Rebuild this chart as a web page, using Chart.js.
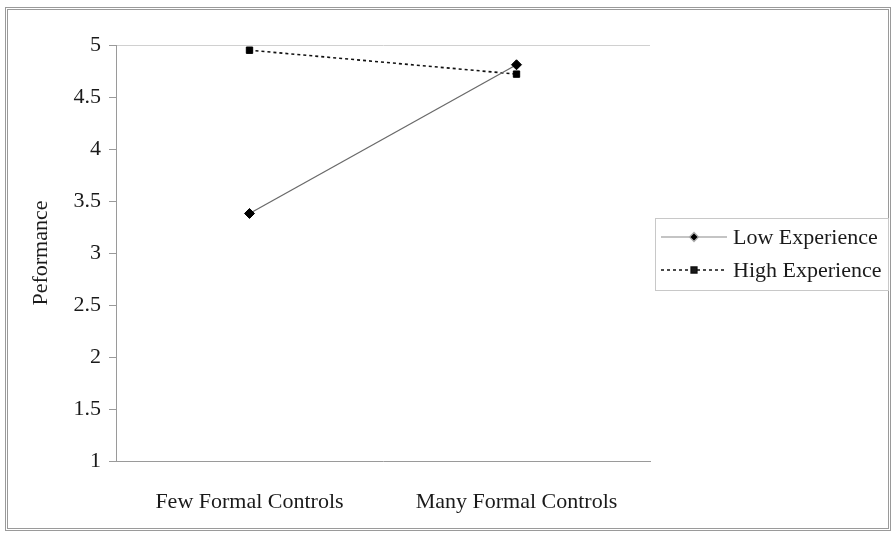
<!DOCTYPE html>
<html>
<head>
<meta charset="utf-8">
<script src="https://cdn.jsdelivr.net/npm/chart.js@4/dist/chart.umd.min.js"></script>
<style>
  html, body { margin: 0; padding: 0; background: #fff; }
  #wrap { position: relative; width: 896px; height: 533px; }
  #frame { position: absolute; left: 5px; top: 7px; width: 880px; height: 518px; border: 3px double #9a9a9a; }
  canvas { position: absolute; left: 0; top: 0; }
</style>
</head>
<body>
<div id="wrap">
  <div id="frame"></div>
  <canvas id="c" width="896" height="533"></canvas>
</div>
<script>
const categories = ["Few Formal Controls", "Many Formal Controls"];
const lowExperience = [3.38, 4.81];
const highExperience = [4.95, 4.72];
const seriesNames = ["Low Experience", "High Experience"];
const yTicks = [1, 1.5, 2, 2.5, 3, 3.5, 4, 4.5, 5];
const yTitle = "Peformance";

const FONT = "'Liberation Serif', 'Times New Roman', serif";

const legendPlugin = {
  id: 'boxLegend',
  afterDraw(chart) {
    const ctx = chart.ctx;
    const x0 = 655, y0 = 218, w = 233, h = 72;
    ctx.save();
    ctx.strokeStyle = '#c8c8c8';
    ctx.lineWidth = 1;
    ctx.strokeRect(x0 + 0.5, y0 + 0.5, w, h);
    chart.data.datasets.forEach((ds, i) => {
      const cy = y0 + 19 + i * 33;
      ctx.beginPath();
      ctx.setLineDash(ds.borderDash || []);
      ctx.strokeStyle = i === 0 ? '#b0b0b0' : ds.borderColor;
      ctx.lineWidth = ds.borderWidth;
      ctx.moveTo(661, cy);
      ctx.lineTo(727, cy);
      ctx.stroke();
      ctx.setLineDash([]);
      Chart.helpers.drawPoint(ctx, {pointStyle: ds.pointStyle, radius: ds.pointRadius - 0.5, borderWidth: 1}, 694, cy);
      ctx.fillStyle = '#1a1a1a';
      ctx.font = "22px " + FONT;
      ctx.textBaseline = 'middle';
      ctx.fillText(ds.label, 733, cy + 1);
    });
    ctx.restore();
  }
};

new Chart(document.getElementById('c'), {
  type: 'line',
  data: {
    labels: categories,
    datasets: [
      {
        label: seriesNames[0],
        data: lowExperience,
        borderColor: '#6a6a6a',
        borderWidth: 1.3,
        pointStyle: 'rectRot',
        pointRadius: 5,
        pointBackgroundColor: '#000',
        pointBorderColor: '#000',
        pointBorderWidth: 1,
        tension: 0
      },
      {
        label: seriesNames[1],
        data: highExperience,
        borderColor: '#111',
        borderWidth: 1.6,
        borderDash: [3, 3],
        pointStyle: 'rect',
        pointRadius: 4.5,
        pointBackgroundColor: '#000',
        pointBorderColor: '#000',
        pointBorderWidth: 1,
        tension: 0
      }
    ]
  },
  options: {
    responsive: false,
    animation: false,
    layout: { padding: { left: 8, top: 45, right: 246, bottom: 10 } },
    plugins: { legend: { display: false }, tooltip: { enabled: false } },
    scales: {
      x: {
        offset: true,
        grid: { display: false },
        border: { display: true, color: '#9a9a9a', width: 1 },
        ticks: { color: '#1a1a1a', font: { family: FONT, size: 22 }, padding: 20, maxRotation: 0 },
        afterFit(scale) { scale.height = 62; }
      },
      y: {
        min: 1, max: 5,
        afterBuildTicks(scale) { scale.ticks = yTicks.map(v => ({ value: v })); },
        grid: {
          drawOnChartArea: true,
          color: ctx => (ctx.tick && ctx.tick.value === 5) ? '#d0d0d0' : 'rgba(0,0,0,0)',
          tickColor: '#9a9a9a',
          tickLength: 7
        },
        border: { display: true, color: '#9a9a9a', width: 1 },
        ticks: { color: '#1a1a1a', font: { family: FONT, size: 22 }, padding: 8, callback: v => String(v) },
        title: { display: true, text: yTitle, color: '#1a1a1a', font: { family: FONT, size: 22 }, padding: { top: 20, bottom: 0 } },
        afterFit(scale) { scale.width = 108; }
      }
    }
  },
  plugins: [legendPlugin]
});
</script>
</body>
</html>
